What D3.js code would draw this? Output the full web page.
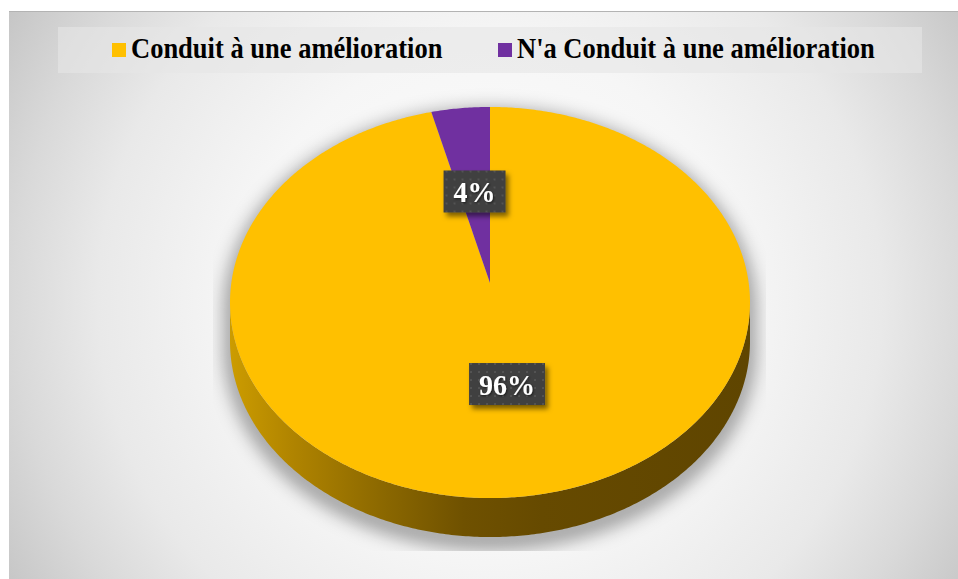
<!DOCTYPE html>
<html>
<head>
<meta charset="utf-8">
<script src="https://cdn.jsdelivr.net/npm/d3@7/dist/d3.min.js"></script>
<style>
  html, body { margin: 0; padding: 0; background: #ffffff; }
  svg { display: block; }
  text { font-family: "Liberation Serif", "Times New Roman", serif; font-weight: bold; }
</style>
</head>
<body>
<svg id="chart" width="958" height="579"></svg>
<script>
// Chart data
const categories = ["Conduit à une amélioration", "N'a Conduit à une amélioration"];
const values = [96, 4];
const valueLabels = ["96%", "4%"];
const colors = ["#FFC000", "#7030A0"];

const W = 958, H = 579;
const svg = d3.select("#chart");
const defs = svg.append("defs");

// Background gradient of the chart area
const bg = defs.append("radialGradient").attr("id", "bgGrad")
  .attr("gradientUnits", "userSpaceOnUse")
  .attr("cx", 490).attr("cy", 300).attr("r", 560);
[[0, "#ffffff"], [0.45, "#f6f6f6"], [0.7, "#e9e9e9"], [0.85, "#d9d9d9"], [1, "#c6c6c6"]]
  .forEach(([o, c]) => bg.append("stop").attr("offset", o).attr("stop-color", c));

// Side wall gradient of the pie
const side = defs.append("linearGradient").attr("id", "sideGrad")
  .attr("gradientUnits", "userSpaceOnUse")
  .attr("x1", 230).attr("x2", 750).attr("y1", 0).attr("y2", 0);
[[0, "#cc9c00"], [0.12, "#b08400"], [0.3, "#8a6700"], [0.45, "#6f5100"], [0.6, "#664a00"], [1, "#5f4500"]]
  .forEach(([o, c]) => side.append("stop").attr("offset", o).attr("stop-color", c));

// Soft shadow under the pie
const blur = defs.append("filter").attr("id", "pieShadow")
  .attr("x", "-20%").attr("y", "-20%").attr("width", "140%").attr("height", "140%");
blur.append("feGaussianBlur").attr("stdDeviation", 8);

defs.append("clipPath").attr("id", "plotClip")
  .append("rect").attr("x", 213).attr("y", 80).attr("width", 553).attr("height", 471);

// Dotted texture for the value boxes
const pat = defs.append("pattern").attr("id", "dots")
  .attr("patternUnits", "userSpaceOnUse").attr("width", 8).attr("height", 8);
pat.append("rect").attr("width", 8).attr("height", 8).attr("fill", "#3f3f3f");
pat.append("circle").attr("cx", 4).attr("cy", 4).attr("r", 1).attr("fill", "#5a5a5a");

const boxShadow = defs.append("filter").attr("id", "boxShadow")
  .attr("x", "-30%").attr("y", "-30%").attr("width", "160%").attr("height", "160%");
boxShadow.append("feDropShadow").attr("dx", 3).attr("dy", 4).attr("stdDeviation", 2.5)
  .attr("flood-color", "#000").attr("flood-opacity", 0.5);

const textShadow = defs.append("filter").attr("id", "textShadow")
  .attr("x", "-20%").attr("y", "-20%").attr("width", "140%").attr("height", "140%");
textShadow.append("feDropShadow").attr("dx", 1).attr("dy", 1).attr("stdDeviation", 0.8)
  .attr("flood-color", "#000").attr("flood-opacity", 0.6);

// Chart area
svg.append("rect").attr("x", 9).attr("y", 11).attr("width", W - 9).attr("height", H - 11)
  .attr("fill", "url(#bgGrad)");
svg.append("line").attr("x1", 9).attr("x2", W).attr("y1", 11.5).attr("y2", 11.5)
  .attr("stroke", "#b3b3b3").attr("stroke-width", 1);

// Legend
const legend = svg.append("g");
legend.append("rect").attr("x", 58).attr("y", 27).attr("width", 864).attr("height", 46)
  .attr("fill", "#e6e6e6").attr("fill-opacity", 0.6);
const legendX = [112, 498];
categories.forEach((c, i) => {
  legend.append("rect").attr("x", legendX[i]).attr("y", 43).attr("width", 14).attr("height", 14)
    .attr("fill", colors[i]);
  legend.append("text")
    .attr("transform", `translate(${legendX[i] + 19},57.8) scale(1,1.08)`)
    .attr("font-size", 26.5).attr("fill", "#000").text(c);
});

// Perspective projection of the unit pie circle onto the page
const P = { cx: 490, cy: 283, A: 258.7, B: 193.6, p: 0.0997, depth: 39 };
function proj(r, theta) {
  const u = r * Math.sin(theta), v = r * Math.cos(theta);
  const d = 1 + P.p * v;
  return [P.cx + P.A * u / d, P.cy - P.B * v / d];
}
function arcPoints(a0, a1, r, dy) {
  const n = Math.max(8, Math.ceil(Math.abs(a1 - a0) / 0.01));
  return d3.range(n + 1).map(k => {
    const t = a0 + (a1 - a0) * k / n;
    const [x, y] = proj(r, t);
    return [x, y + (dy || 0)];
  });
}
const line = d3.line();

const pie = d3.pie().sort(null).startAngle(0).endAngle(2 * Math.PI);
const arcs = pie(values);

// Silhouette angles (leftmost / rightmost points of the projected rim)
const thR = Math.PI - Math.acos(P.p);
const thL = Math.PI + Math.acos(P.p);

// Shadow
const silhouette = arcPoints(thL, thR + 2 * Math.PI, 1, 0)
  .concat(arcPoints(thR, thL, 1, P.depth));
svg.append("g").attr("clip-path", "url(#plotClip)")
  .append("path")
  .attr("d", line(silhouette) + "Z")
  .attr("transform", "translate(0,7)")
  .attr("fill", "#000").attr("fill-opacity", 0.22)
  .attr("stroke", "#000").attr("stroke-opacity", 0.22).attr("stroke-width", 18)
  .attr("stroke-linejoin", "round")
  .attr("filter", "url(#pieShadow)");

// Front wall
const wall = arcPoints(thR, thL, 1, 0).concat(arcPoints(thL, thR, 1, P.depth));
svg.append("path").attr("d", line(wall) + "Z").attr("fill", "url(#sideGrad)");

// Top face slices
svg.append("g").selectAll("path").data(arcs).join("path")
  .attr("d", d => line([[P.cx, P.cy]].concat(arcPoints(d.startAngle, d.endAngle, 1, 0))) + "Z")
  .attr("fill", (d, i) => colors[i]);

// Value labels
const lbl = svg.append("g").selectAll("g").data(arcs).join("g")
  .attr("transform", d => {
    const [x, y] = proj(0.5, (d.startAngle + d.endAngle) / 2);
    return `translate(${x},${y})`;
  });
lbl.append("rect").attr("fill", "url(#dots)").attr("filter", "url(#boxShadow)");
const texts = lbl.append("text").attr("text-anchor", "middle").attr("font-size", 28)
  .attr("transform", "translate(0,10.8) scale(1,1.06)")
  .attr("fill", "#ffffff").attr("filter", "url(#textShadow)")
  .text((d, i) => valueLabels[i]);
texts.each(function () {
  const w = this.getComputedTextLength();
  d3.select(this.parentNode).select("rect")
    .attr("x", -w / 2 - 10).attr("y", -21).attr("width", w + 20).attr("height", 42);
});
</script>
</body>
</html>
